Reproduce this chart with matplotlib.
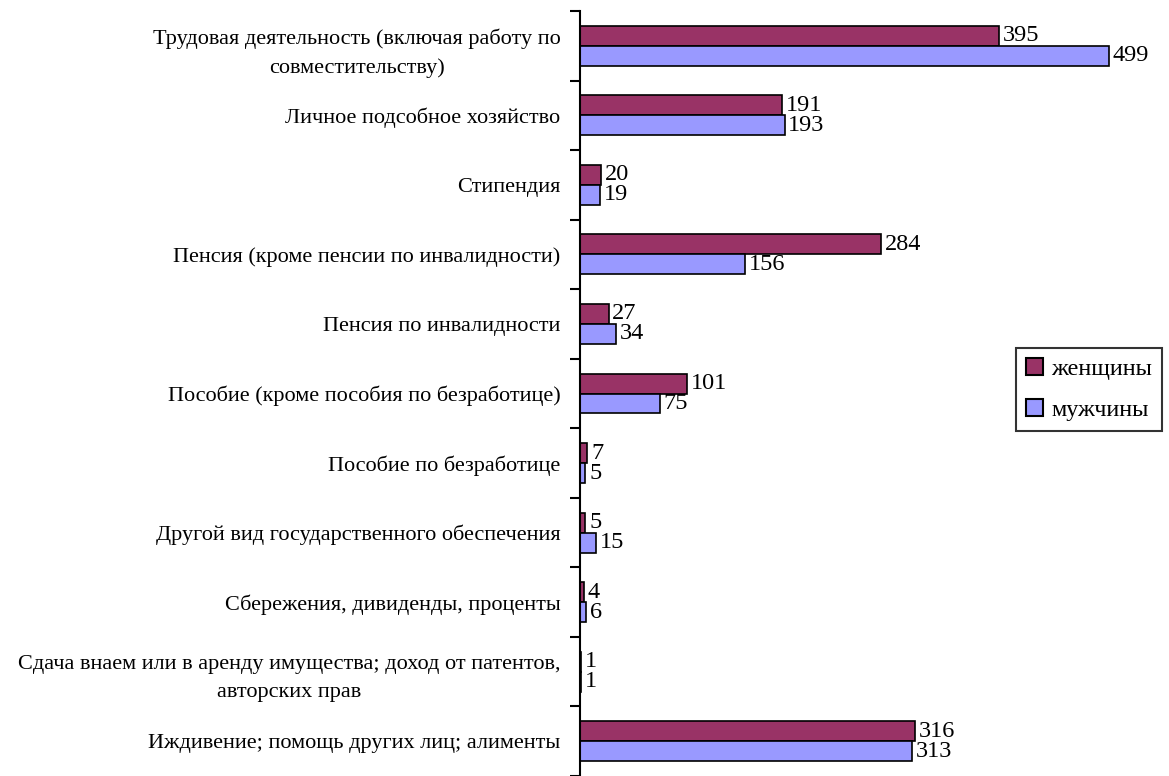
import matplotlib
matplotlib.use("Agg")
import matplotlib.pyplot as plt
import numpy as np

categories = [
    "Трудовая деятельность (включая работу по\nсовместительству)",
    "Личное подсобное хозяйство",
    "Стипендия",
    "Пенсия (кроме пенсии по инвалидности)",
    "Пенсия по инвалидности",
    "Пособие (кроме пособия по безработице)",
    "Пособие по безработице",
    "Другой вид государственного обеспечения",
    "Сбережения, дивиденды, проценты",
    "Сдача внаем или в аренду имущества; доход от патентов,\nавторских прав",
    "Иждивение; помощь других лиц; алименты",
]
women = [395, 191, 20, 284, 27, 101, 7, 5, 4, 1, 316]
men = [499, 193, 19, 156, 34, 75, 5, 15, 6, 1, 313]
series_names = ["женщины", "мужчины"]

plt.rcParams['font.family'] = ['Liberation Serif', 'DejaVu Serif']

fig = plt.figure(figsize=(11.69, 7.76), dpi=100)
W, H = 1169, 776
ax_left = 580 / W
ax_top = 11 / H
ax_right_px = 580 + 550 * 1.06
ax = fig.add_axes([ax_left, 0.0, (ax_right_px - 580) / W, 1 - ax_top])

n = len(categories)
y = np.arange(n)
h = 0.2875
c_w = "#993366"
c_m = "#9999FF"
ax.barh(y - h / 2, women, height=h, color=c_w, edgecolor="black", linewidth=1.2, label=series_names[0])
ax.barh(y + h / 2, men, height=h, color=c_m, edgecolor="black", linewidth=1.2, label=series_names[1])

for i in range(n):
    ax.text(women[i] + 3.5, y[i] - h / 2, str(women[i]), va="center", ha="left", fontsize=17.5)
    ax.text(men[i] + 3.5, y[i] + h / 2, str(men[i]), va="center", ha="left", fontsize=17.5)

ax.set_xlim(0, 550)
ax.set_ylim(n - 0.5, -0.5)

for s in ["top", "right", "bottom"]:
    ax.spines[s].set_visible(False)
ax.spines["left"].set_linewidth(1.5)
ax.set_xticks([])

ax.set_yticks(np.arange(-0.5, n, 1.0))
ax.set_yticklabels([])
ax.tick_params(axis="y", which="major", length=7, width=1.5, direction="out")
ax.set_yticks(y, minor=True)
ax.set_yticklabels(categories, minor=True, fontsize=16, multialignment="center", linespacing=1.65)
ax.tick_params(axis="y", which="minor", length=0, pad=14)

leg = fig.legend(loc="upper right", bbox_to_anchor=(1162 / W, 1 - 348 / H), frameon=True,
                 fontsize=17.5, handlelength=0.7, handleheight=0.7, handletextpad=0.35,
                 labelspacing=0.8, borderpad=0.4, borderaxespad=0, fancybox=False, edgecolor="black")
leg.get_frame().set_linewidth(1.5)
for p in leg.get_patches():
    p.set_linewidth(1.5)

fig.savefig("out.png", dpi=100)
